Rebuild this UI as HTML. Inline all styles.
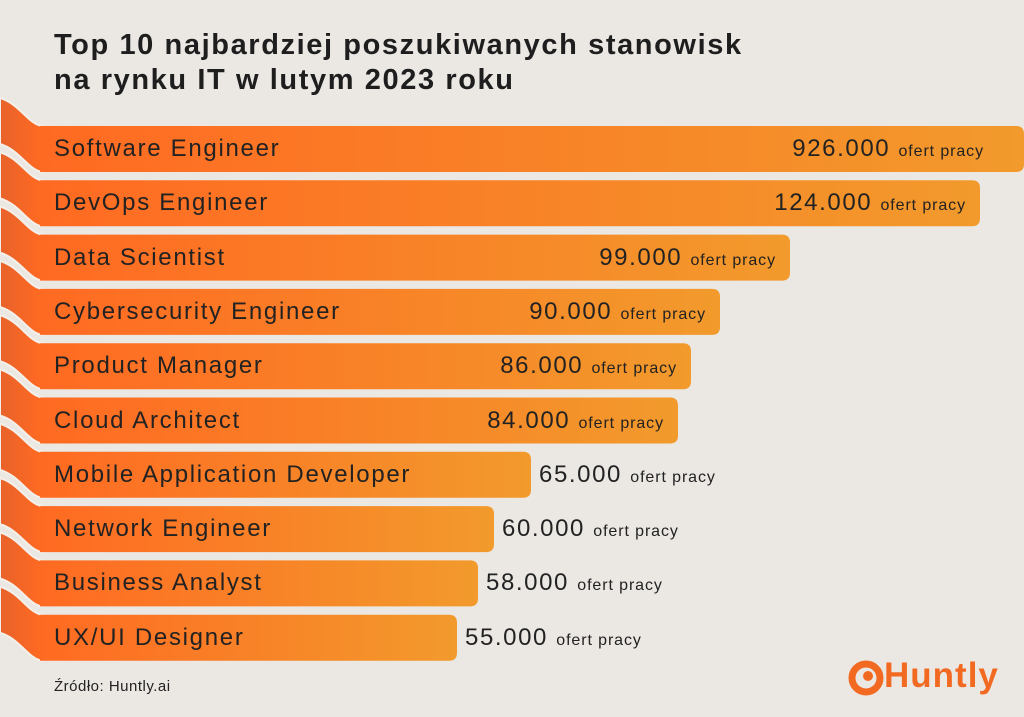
<!DOCTYPE html>
<html><head><style>
body{margin:0;width:1024px;height:717px;background:#ebe8e4;font-family:"Liberation Sans",sans-serif;position:relative;overflow:hidden}
h1{position:absolute;left:54px;top:28px;margin:0;font-size:29px;line-height:35px;color:#1e1e1e;font-weight:bold;letter-spacing:1.6px;white-space:nowrap}
.lab{position:absolute;left:54px;font-size:24px;color:#222;line-height:46px;letter-spacing:1.7px;white-space:nowrap}
.val{position:absolute;font-size:24px;color:#222;line-height:46px;white-space:nowrap;letter-spacing:1.6px}
.val small{font-size:16px;letter-spacing:0.9px}
.src{position:absolute;left:54px;top:678px;font-size:15px;color:#222;letter-spacing:0.5px}
.logo{position:absolute;left:848px;top:656px;font-size:35px;font-weight:bold;color:#f26a22;letter-spacing:1px}
</style></head><body>
<h1>Top 10 najbardziej poszukiwanych stanowisk<br>na rynku IT w lutym 2023 roku</h1>
<svg width="1024" height="717" style="position:absolute;left:0;top:0">
<defs>
<linearGradient id="g" x1="0" x2="1"><stop offset="0" stop-color="#ff6a22"/><stop offset="1" stop-color="#f29a2c"/></linearGradient>
<linearGradient id="f" x1="0" x2="1"><stop offset="0" stop-color="#e8622a"/><stop offset="1" stop-color="#ff6a22"/></linearGradient>
</defs>
<g id="bars"></g>
<circle cx="866" cy="678" r="14" fill="none" stroke="#f26a22" stroke-width="7"/>
<circle cx="868" cy="676" r="5" fill="#f26a22"/>
</svg>
<div id="t"></div>
<div class="src">Źródło: Huntly.ai</div>
<div class="logo" style="left:884px">Huntly</div>
<script>
var d=[["Software Engineer","926.000",1024,1],["DevOps Engineer","124.000",980,1],["Data Scientist","99.000",790,1],["Cybersecurity Engineer","90.000",720,1],["Product Manager","86.000",691,1],["Cloud Architect","84.000",678,1],["Mobile Application Developer","65.000",531,0],["Network Engineer","60.000",494,0],["Business Analyst","58.000",478,0],["UX/UI Designer","55.000",457,0]];
var s="",h="";
for(var i=9;i>=0;i--){var y=126+i*54.3,b=d[i],r=b[2];
s+='<path d="M0 '+(y-28)+'C20 '+(y-22)+' 28 '+(y-2)+' 42 '+y+'V'+(y+46)+'C28 '+(y+44)+' 20 '+(y+24)+' 0 '+(y+18)+'Z" fill="url(#f)" stroke="#f4efe9" stroke-width="2"/>';
s+='<path d="M40 '+y+'H'+(r-8)+'Q'+r+' '+y+' '+r+' '+(y+8)+'V'+(y+38)+'Q'+r+' '+(y+46)+' '+(r-8)+' '+(y+46)+'H40Z" fill="url(#g)"/>';
h+='<div class="lab" style="top:'+y+'px">'+b[0]+'</div>';
var v='<div class="val" style="top:'+y+'px;';
if(b[3])v+='right:'+(1024-r+(i==0?40:14))+'px">';else v+='left:'+(r+8)+'px">';
h+=v+b[1]+' <small>ofert pracy</small></div>';}
document.getElementById('bars').innerHTML=s;document.getElementById('t').innerHTML=h;
</script>
</body></html>
